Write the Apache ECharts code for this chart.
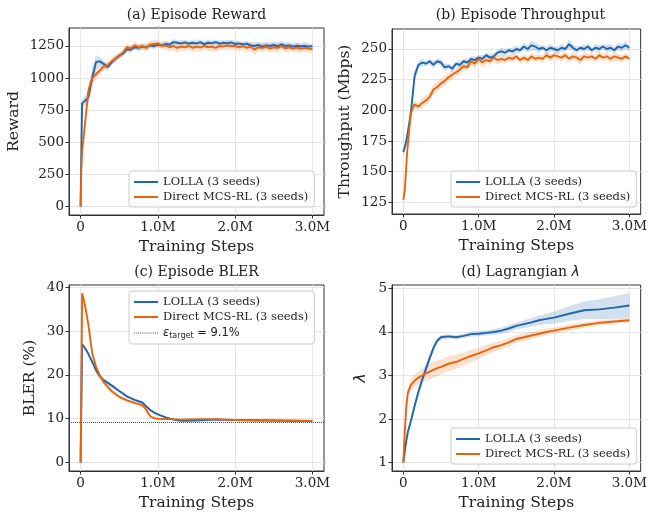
<!DOCTYPE html>
<html>
<head>
<meta charset="utf-8">
<script src="https://cdn.jsdelivr.net/npm/echarts@6/dist/echarts.min.js"></script>
<style>
  html, body { margin: 0; padding: 0; background: #fff; }
  #chart { width: 650px; height: 514px; }
</style>
</head>
<body>
<div id="chart"></div>
<script>
const FONT = 'DejaVu Serif'
const TEXT_COLOR = '#222222'
const FRAME_COLOR = '#333333'
const GRID_LINE_COLOR = '#e6e6e6'
const BLUE = '#2166ac'
const ORANGE = '#e8640c'
const TARGET_COLOR = '#555555'

const LOLLA = 'LOLLA (3 seeds)'
const DIRECT = 'Direct MCS-RL (3 seeds)'
const TARGET = 'target'

// training steps (millions), shared by reward + throughput panels
const stepsNoisy = [
  0, 0.01, 0.02, 0.05, 0.1, 0.15, 0.2, 0.25, 0.3, 0.35, 0.4, 0.45, 0.5,
  0.55, 0.6, 0.65, 0.7, 0.75, 0.8, 0.85, 0.9, 0.95, 1.0,
  1.05, 1.1, 1.15, 1.2, 1.25, 1.3, 1.35, 1.4, 1.45, 1.5,
  1.55, 1.6, 1.65, 1.7, 1.75, 1.8, 1.85, 1.9, 1.95, 2.0,
  2.05, 2.1, 2.15, 2.2, 2.25, 2.3, 2.35, 2.4, 2.45, 2.5,
  2.55, 2.6, 2.65, 2.7, 2.75, 2.8, 2.85, 2.9, 2.95, 3.0
]

const rewardLolla = [
  0, 430, 805, 820, 850, 1000, 1125, 1130, 1110, 1085, 1120, 1150, 1175,
  1190, 1225, 1220, 1240, 1235, 1245, 1240, 1255, 1250, 1260,
  1255, 1265, 1260, 1280, 1275, 1270, 1278, 1268, 1275, 1270,
  1280, 1265, 1275, 1272, 1280, 1268, 1275, 1270, 1278, 1265,
  1270, 1262, 1268, 1255, 1250, 1258, 1245, 1255, 1250, 1258,
  1248, 1262, 1250, 1255, 1245, 1252, 1248, 1250, 1245, 1250
]
const rewardLollaBand = [
  0, 30, 30, 35, 60, 85, 55, 35, 25, 25, 20, 25, 20,
  20, 25, 20, 20, 25, 20, 25, 20, 25, 20,
  20, 25, 20, 25, 20, 25, 20, 20, 25, 20,
  25, 20, 25, 20, 20, 25, 20, 25, 20, 25,
  20, 20, 25, 25, 30, 25, 30, 25, 30, 25,
  30, 25, 30, 25, 30, 25, 25, 30, 25, 20
]
const rewardDirect = [
  0, 300, 430, 600, 900, 1000, 1030, 1060, 1090, 1100, 1130, 1150, 1170,
  1200, 1240, 1230, 1255, 1240, 1250, 1235, 1260, 1265, 1270,
  1250, 1255, 1240, 1250, 1235, 1245, 1240, 1250, 1235, 1245,
  1238, 1250, 1240, 1245, 1235, 1250, 1245, 1255, 1248, 1250,
  1240, 1248, 1235, 1245, 1220, 1240, 1235, 1245, 1230, 1240,
  1235, 1248, 1232, 1240, 1230, 1238, 1228, 1235, 1230, 1225
]
const rewardDirectBand = [
  0, 40, 40, 40, 50, 45, 40, 35, 30, 30, 30, 25, 25,
  25, 30, 25, 30, 25, 30, 25, 30, 30, 25,
  30, 30, 35, 30, 35, 30, 30, 35, 30, 30,
  35, 30, 30, 35, 30, 30, 30, 35, 30, 30,
  35, 30, 30, 35, 40, 30, 35, 30, 35, 30,
  35, 30, 35, 30, 30, 35, 30, 30, 30, 25
]

const tputLolla = [
  166, 167, 170, 178, 198, 228, 237, 239, 238, 240, 237, 240, 239,
  235, 236, 234, 238, 237, 240, 239, 242, 241, 243,
  242, 245, 243, 244, 247, 248, 247, 249, 248, 250,
  249, 252, 250, 253, 252, 250, 251, 249, 251, 250,
  249, 251, 250, 254, 251, 249, 251, 250, 252, 249,
  251, 250, 252, 250, 251, 249, 252, 251, 253, 251
]
const tputLollaBand = [
  2, 3, 3, 4, 5, 5, 3, 3, 2, 2, 3, 2, 3,
  3, 2, 3, 2, 3, 2, 3, 2, 3, 2,
  3, 2, 3, 3, 2, 3, 3, 2, 3, 3,
  2, 3, 3, 4, 3, 3, 2, 3, 3, 2,
  3, 3, 2, 4, 3, 3, 2, 3, 3, 2,
  3, 3, 2, 3, 3, 2, 3, 3, 3, 2
]
const tputDirect = [
  127, 128, 135, 165, 198, 205, 203, 206, 208, 211, 217, 219, 222,
  224, 227, 229, 231, 233, 236, 235, 240, 238, 242,
  239, 241, 240, 243, 241, 242, 241, 243, 242, 244,
  241, 243, 241, 244, 242, 243, 242, 245, 243, 245,
  244, 243, 245, 242, 244, 243, 241, 244, 243, 244,
  242, 245, 243, 244, 242, 244, 243, 242, 244, 242
]
const tputDirectBand = [
  2, 3, 3, 4, 4, 3, 3, 4, 4, 4, 4, 4, 4,
  4, 3, 4, 3, 4, 3, 3, 3, 4, 3,
  4, 3, 3, 3, 4, 3, 3, 3, 3, 3,
  3, 3, 3, 3, 3, 3, 3, 3, 3, 3,
  3, 3, 3, 3, 3, 3, 4, 3, 3, 3,
  3, 3, 3, 3, 3, 4, 3, 3, 3, 2
]

const stepsBler = [0, 0.02, 0.05, 0.1, 0.15, 0.2, 0.25, 0.3, 0.4, 0.5, 0.6, 0.7, 0.8, 0.85, 0.9, 0.95, 1.0, 1.1, 1.2, 1.3, 1.5, 1.75, 2.0, 2.25, 2.5, 2.75, 3.0]
const blerLolla = [0, 27.0, 26.3, 24.8, 23.0, 21.0, 19.6, 18.8, 17.6, 16.3, 15.1, 14.3, 13.7, 12.8, 12.0, 11.4, 11.0, 10.3, 9.8, 9.5, 9.6, 9.8, 9.7, 9.6, 9.6, 9.5, 9.5]
const blerLollaBand = [0, 0.2, 0.3, 0.4, 0.4, 0.4, 0.4, 0.4, 0.4, 0.3, 0.3, 0.3, 0.3, 0.3, 0.3, 0.2, 0.2, 0.2, 0.1, 0.1, 0.1, 0.1, 0.1, 0.1, 0.1, 0.1, 0.1]
const blerDirect = [0, 38.6, 36.5, 31.5, 25.0, 21.8, 19.8, 18.3, 16.3, 15.0, 14.2, 13.6, 13.1, 12.0, 10.6, 10.1, 10.0, 9.9, 9.9, 9.8, 9.9, 9.9, 9.7, 9.7, 9.6, 9.6, 9.5]
const blerDirectBand = [0, 0.2, 0.3, 0.4, 0.5, 0.5, 0.5, 0.5, 0.5, 0.4, 0.4, 0.3, 0.3, 0.3, 0.2, 0.2, 0.1, 0.1, 0.1, 0.1, 0.1, 0.1, 0.1, 0.1, 0.1, 0.1, 0.1]
const blerTarget = 9.1

const stepsLambda = [0, 0.02, 0.04, 0.06, 0.1, 0.15, 0.2, 0.25, 0.3, 0.35, 0.4, 0.45, 0.5, 0.6, 0.7, 0.8, 0.9, 1.0, 1.1, 1.2, 1.3, 1.4, 1.5, 1.6, 1.7, 1.8, 1.9, 2.0, 2.2, 2.4, 2.6, 2.8, 3.0]
const lambdaLolla = [1, 1.25, 1.5, 1.7, 1.95, 2.3, 2.62, 2.9, 3.15, 3.4, 3.63, 3.8, 3.88, 3.9, 3.88, 3.91, 3.95, 3.96, 3.98, 4.0, 4.03, 4.08, 4.14, 4.18, 4.22, 4.27, 4.3, 4.33, 4.42, 4.5, 4.52, 4.56, 4.61]
const lambdaLollaBand = [0, 0.03, 0.05, 0.06, 0.08, 0.1, 0.1, 0.12, 0.12, 0.1, 0.08, 0.06, 0.05, 0.05, 0.05, 0.05, 0.06, 0.06, 0.06, 0.07, 0.07, 0.08, 0.08, 0.09, 0.1, 0.11, 0.12, 0.14, 0.17, 0.2, 0.23, 0.26, 0.28]
const lambdaDirect = [1, 1.7, 2.3, 2.6, 2.78, 2.88, 2.95, 3.0, 3.05, 3.09, 3.13, 3.17, 3.2, 3.27, 3.31, 3.38, 3.45, 3.51, 3.58, 3.65, 3.7, 3.76, 3.84, 3.88, 3.92, 3.96, 4.0, 4.03, 4.1, 4.16, 4.21, 4.24, 4.27]
const lambdaDirectBand = [0, 0.05, 0.08, 0.1, 0.12, 0.14, 0.15, 0.16, 0.17, 0.18, 0.18, 0.18, 0.17, 0.17, 0.16, 0.15, 0.14, 0.13, 0.12, 0.11, 0.1, 0.1, 0.09, 0.09, 0.08, 0.08, 0.08, 0.07, 0.07, 0.06, 0.06, 0.05, 0.05]

const xTicks = [0, 1, 2, 3]
const rewardTicks = [0, 250, 500, 750, 1000, 1250]
const tputTicks = [125, 150, 175, 200, 225, 250]
const blerTicks = [0, 10, 20, 30, 40]
const lambdaTicks = [1, 2, 3, 4, 5]

// plot boxes [left, top, width, height]
const boxes = [
  [69, 28, 255, 187],
  [392, 29, 257, 185],
  [69, 285, 255, 186],
  [392, 285, 257, 186]
]

const DOTS_ICON = 'path://M0,0h1v1h-1z M2,0h1v1h-1z M4,0h1v1h-1z M6,0h1v1h-1z M8,0h1v1h-1z M10,0h1v1h-1z M12,0h1v1h-1z M14,0h1v1h-1z M16,0h1v1h-1z M18,0h1v1h-1z M20,0h1v1h-1z M22,0h1v1h-1z'

function xAxisFor(i) {
  return {
    type: 'value', gridIndex: i, min: -0.15, max: 3.15,
    name: 'Training Steps', nameLocation: 'middle', nameGap: 24,
    nameTextStyle: { fontFamily: FONT, fontSize: 15.5, color: TEXT_COLOR },
    axisLine: { show: true, onZero: false, lineStyle: { color: FRAME_COLOR } },
    axisTick: { show: true, length: 3.5, customValues: xTicks, lineStyle: { color: FRAME_COLOR } },
    axisLabel: {
      customValues: xTicks, margin: 5,
      fontFamily: FONT, fontSize: 13.5, color: TEXT_COLOR,
      formatter: (v) => (v === 0 ? '0' : v.toFixed(1) + 'M')
    },
    splitLine: { show: true, lineStyle: { color: GRID_LINE_COLOR } }
  }
}

function yAxisFor(i, name, min, max, ticks, nameGap, nameStyle) {
  return {
    type: 'value', gridIndex: i, min, max,
    name, nameLocation: 'middle', nameGap,
    nameTextStyle: Object.assign({ fontFamily: FONT, fontSize: 15.5, color: TEXT_COLOR }, nameStyle || {}),
    axisLine: { show: true, onZero: false, lineStyle: { color: FRAME_COLOR } },
    axisTick: { show: true, length: 3.5, customValues: ticks, lineStyle: { color: FRAME_COLOR } },
    axisLabel: {
      customValues: ticks, margin: 5, fontFamily: FONT, fontSize: 13.5, color: TEXT_COLOR,
      formatter: (v) => String(v)
    },
    splitLine: { show: true, lineStyle: { color: GRID_LINE_COLOR } }
  }
}

function meanLine(i, name, xs, ys, color, z) {
  return {
    type: 'line', name, xAxisIndex: i, yAxisIndex: i, symbol: 'none',
    z: z || 3,
    lineStyle: { color, width: 1.9 },
    itemStyle: { color },
    data: xs.map((x, k) => [x, ys[k]])
  }
}

// shaded mean ± spread, one polygon through the axis scales
function band(i, xs, ys, half, color) {
  return {
    type: 'custom', xAxisIndex: i, yAxisIndex: i, silent: true, z: 1, clip: true,
    data: xs.map((x, k) => [x, ys[k] - half[k], ys[k] + half[k]]),
    encode: { x: 0, y: [1, 2] },
    renderItem: (params, api) => {
      if (params.dataIndexInside !== 0) return null
      const n = xs.length
      const upper = []
      const lower = []
      for (let k = 0; k < n; k++) {
        upper.push(api.coord([api.value(0, k), api.value(2, k)]))
        lower.push(api.coord([api.value(0, k), api.value(1, k)]))
      }
      return {
        type: 'polygon',
        shape: { points: upper.concat(lower.reverse()) },
        style: { fill: color, opacity: 0.2 }
      }
    }
  }
}

function panelSeries(i, xs, lolla, lollaBand, direct, directBand) {
  return [
    band(i, xs, lolla, lollaBand, BLUE),
    band(i, xs, direct, directBand, ORANGE),
    meanLine(i, LOLLA, xs, lolla, BLUE, 3),
    meanLine(i, DIRECT, xs, direct, ORANGE, 4)
  ]
}

function legendAt(left, top, names) {
  return {
    orient: 'vertical', left, top,
    data: names.map((n) => (n === TARGET ? { name: n, icon: DOTS_ICON } : { name: n, icon: 'rect' })),
    itemWidth: 24, itemHeight: 2, itemGap: 3,
    padding: [5, 6, 4, 5],
    backgroundColor: 'rgba(255,255,255,0.85)',
    borderColor: '#cccccc', borderWidth: 1, borderRadius: 3,
    selectedMode: false,
    textStyle: {
      fontFamily: FONT, fontSize: 11.5, color: TEXT_COLOR,
      rich: {
        e: { fontFamily: 'DejaVu Sans', fontStyle: 'italic', fontSize: 11.5, color: TEXT_COLOR, lineHeight: 20 },
        s: { fontFamily: 'DejaVu Sans', fontSize: 8, color: TEXT_COLOR, padding: [6, 0, 0, 0], lineHeight: 20 },
        n: { fontFamily: 'DejaVu Sans', fontSize: 11.5, color: TEXT_COLOR, lineHeight: 20 }
      }
    },
    formatter: (name) => (name === TARGET ? '{e|ε}{s|target}{n| = 9.1%}' : name)
  }
}

function titleAt(i, text, top) {
  const [l, , w] = boxes[i]
  return {
    text, left: l + w / 2, top, textAlign: 'center', padding: 0,
    textStyle: {
      fontFamily: FONT, fontSize: 14, fontWeight: 'normal', color: TEXT_COLOR,
      rich: { l: { fontFamily: 'DejaVu Sans', fontStyle: 'italic', fontSize: 14, color: TEXT_COLOR } }
    }
  }
}

const chart = echarts.init(document.getElementById('chart'), null, { renderer: 'canvas' })

const thresholdSeries = {
  type: 'line', name: TARGET, xAxisIndex: 2, yAxisIndex: 2, symbol: 'none', data: [],
  lineStyle: { color: TARGET_COLOR, width: 1, type: 'dotted' },
  itemStyle: { color: TARGET_COLOR },
  markLine: {
    silent: true, symbol: 'none', label: { show: false },
    lineStyle: { color: TARGET_COLOR, width: 1, type: 'dotted' },
    data: [{ yAxis: blerTarget }]
  }
}

chart.setOption({
  animation: false,
  backgroundColor: '#ffffff',
  title: [
    titleAt(0, '(a) Episode Reward', 8),
    titleAt(1, '(b) Episode Throughput', 8),
    titleAt(2, '(c) Episode BLER', 265),
    titleAt(3, '(d) Lagrangian {l|λ}', 265)
  ],
  grid: boxes.map(([left, top, width, height]) => ({
    left, top, width, height, show: true,
    borderColor: FRAME_COLOR, borderWidth: 1, backgroundColor: '#ffffff'
  })),
  xAxis: [0, 1, 2, 3].map(xAxisFor),
  yAxis: [
    yAxisFor(0, 'Reward', -66, 1390, rewardTicks, 47),
    yAxisFor(1, 'Throughput (Mbps)', 115.5, 266.3, tputTicks, 39),
    yAxisFor(2, 'BLER (%)', -1.93, 40.5, blerTicks, 31),
    yAxisFor(3, 'λ', 0.805, 5.08, lambdaTicks, 23, { fontFamily: 'DejaVu Sans', fontStyle: 'italic' })
  ],
  legend: [
    legendAt(129, 171, [LOLLA, DIRECT]),
    legendAt(451, 171, [LOLLA, DIRECT]),
    legendAt(129, 291, [LOLLA, DIRECT, TARGET]),
    legendAt(451, 428, [LOLLA, DIRECT])
  ],
  series: [
    ...panelSeries(0, stepsNoisy, rewardLolla, rewardLollaBand, rewardDirect, rewardDirectBand),
    ...panelSeries(1, stepsNoisy, tputLolla, tputLollaBand, tputDirect, tputDirectBand),
    ...panelSeries(2, stepsBler, blerLolla, blerLollaBand, blerDirect, blerDirectBand),
    thresholdSeries,
    ...panelSeries(3, stepsLambda, lambdaLolla, lambdaLollaBand, lambdaDirect, lambdaDirectBand)
  ]
})
</script>
</body>
</html>
